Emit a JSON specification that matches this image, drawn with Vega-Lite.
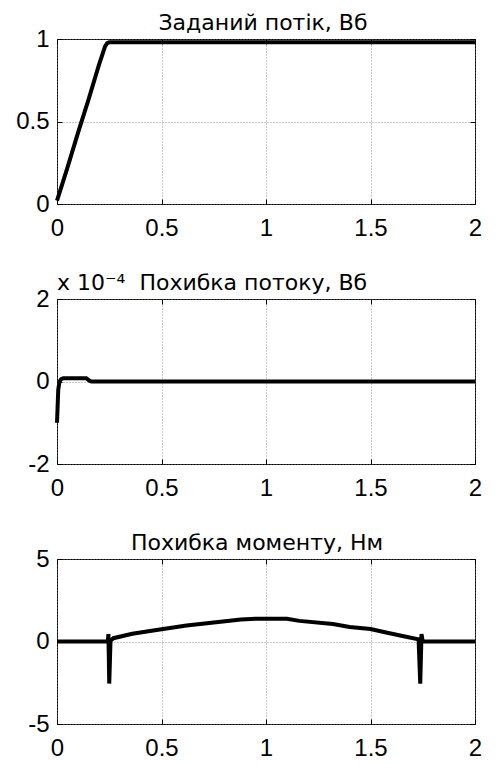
{
  "$schema": "https://vega.github.io/schema/vega-lite/v6.json",
  "autosize": {"type": "pad"},
  "padding": {"left": 15, "top": 11, "right": 5, "bottom": 5},
  "background": "white",
  "datasets": {
    "flux": [
      {"t": 0, "v": 0.02}, {"t": 0.05, "v": 0.22}, {"t": 0.1, "v": 0.43},
      {"t": 0.15, "v": 0.63}, {"t": 0.2, "v": 0.84}, {"t": 0.23, "v": 0.955},
      {"t": 0.24, "v": 0.975}, {"t": 0.25, "v": 0.98}, {"t": 2, "v": 0.98}
    ],
    "fluxErr": [
      {"t": 0, "v": -1.0}, {"t": 0.003, "v": -0.6}, {"t": 0.006, "v": -0.2},
      {"t": 0.012, "v": 0.0}, {"t": 0.02, "v": 0.06}, {"t": 0.03, "v": 0.08},
      {"t": 0.14, "v": 0.08}, {"t": 0.155, "v": 0.02}, {"t": 0.165, "v": 0.0},
      {"t": 2, "v": 0.0}
    ],
    "torqueErr": [
      {"t": 0, "v": 0}, {"t": 0.243, "v": 0}, {"t": 0.246, "v": 0.45},
      {"t": 0.25, "v": -2.55}, {"t": 0.256, "v": 0.05}, {"t": 0.27, "v": 0.2},
      {"t": 0.36, "v": 0.47}, {"t": 0.5, "v": 0.74}, {"t": 0.62, "v": 0.97},
      {"t": 0.75, "v": 1.15}, {"t": 0.88, "v": 1.33}, {"t": 0.95, "v": 1.38},
      {"t": 1.1, "v": 1.38}, {"t": 1.16, "v": 1.25}, {"t": 1.32, "v": 1.06},
      {"t": 1.4, "v": 0.88}, {"t": 1.5, "v": 0.76}, {"t": 1.58, "v": 0.53},
      {"t": 1.67, "v": 0.29}, {"t": 1.73, "v": 0.13}, {"t": 1.738, "v": -2.55},
      {"t": 1.744, "v": 0.45}, {"t": 1.75, "v": 0.0}, {"t": 2, "v": 0.0}
    ]
  },
  "vconcat": [
    {
      "width": 418,
      "height": 165,
      "title": {"text": "Заданий потік, Вб", "dx": -3},
      "data": {"name": "flux"},
      "layer": [
        {
          "mark": {"type": "line", "color": "black", "strokeWidth": 4},
          "encoding": {
            "x": {"field": "t", "type": "quantitative", "title": null,
                  "scale": {"domain": [0, 2], "nice": false},
                  "axis": {"orient": "bottom", "values": [0, 0.5, 1, 1.5, 2], "format": "~g"}},
            "y": {"field": "v", "type": "quantitative", "title": null,
                  "scale": {"domain": [0, 1], "nice": false, "zero": false},
                  "axis": {"orient": "left", "values": [0, 0.5, 1], "format": "~g"}}
          }
        },
        {
          "mark": {"type": "line", "opacity": 0},
          "encoding": {
            "x": {"field": "t", "type": "quantitative", "title": null,
                  "axis": {"orient": "top", "values": [0, 0.5, 1, 1.5, 2], "labels": false, "grid": false}},
            "y": {"field": "v", "type": "quantitative", "title": null,
                  "axis": {"orient": "right", "values": [0, 0.5, 1], "labels": false, "grid": false}}
          }
        }
      ],
      "resolve": {"axis": {"x": "independent", "y": "independent"}}
    },
    {
      "width": 418,
      "height": 165,
      "title": {"text": "x 10⁻⁴\u00a0\u00a0Похибка потоку, Вб", "anchor": "start", "frame": "group"},
      "data": {"name": "fluxErr"},
      "layer": [
        {
          "mark": {"type": "line", "color": "black", "strokeWidth": 4},
          "encoding": {
            "x": {"field": "t", "type": "quantitative", "title": null,
                  "scale": {"domain": [0, 2], "nice": false},
                  "axis": {"orient": "bottom", "values": [0, 0.5, 1, 1.5, 2], "format": "~g"}},
            "y": {"field": "v", "type": "quantitative", "title": null,
                  "scale": {"domain": [-2, 2], "nice": false},
                  "axis": {"orient": "left", "values": [-2, 0, 2], "format": "~g",
                           "labelExpr": "replace(datum.label, '\u2212', '-')"}}
          }
        },
        {
          "mark": {"type": "line", "opacity": 0},
          "encoding": {
            "x": {"field": "t", "type": "quantitative", "title": null,
                  "axis": {"orient": "top", "values": [0, 0.5, 1, 1.5, 2], "labels": false, "grid": false}},
            "y": {"field": "v", "type": "quantitative", "title": null,
                  "axis": {"orient": "right", "values": [-2, 0, 2], "labels": false, "grid": false}}
          }
        }
      ],
      "resolve": {"axis": {"x": "independent", "y": "independent"}}
    },
    {
      "width": 418,
      "height": 165,
      "title": {"text": "Похибка моменту, Нм", "dx": -9},
      "data": {"name": "torqueErr"},
      "layer": [
        {
          "mark": {"type": "line", "color": "black", "strokeWidth": 4},
          "encoding": {
            "x": {"field": "t", "type": "quantitative", "title": null,
                  "scale": {"domain": [0, 2], "nice": false},
                  "axis": {"orient": "bottom", "values": [0, 0.5, 1, 1.5, 2], "format": "~g"}},
            "y": {"field": "v", "type": "quantitative", "title": null,
                  "scale": {"domain": [-5, 5], "nice": false},
                  "axis": {"orient": "left", "values": [-5, 0, 5], "format": "~g",
                           "labelExpr": "replace(datum.label, '\u2212', '-')"}}
          }
        },
        {
          "mark": {"type": "line", "opacity": 0},
          "encoding": {
            "x": {"field": "t", "type": "quantitative", "title": null,
                  "axis": {"orient": "top", "values": [0, 0.5, 1, 1.5, 2], "labels": false, "grid": false}},
            "y": {"field": "v", "type": "quantitative", "title": null,
                  "axis": {"orient": "right", "values": [-5, 0, 5], "labels": false, "grid": false}}
          }
        }
      ],
      "resolve": {"axis": {"x": "independent", "y": "independent"}}
    }
  ],
  "spacing": 95,
  "bounds": "flush",
  "config": {
    "font": "Liberation Sans",
    "view": {"stroke": "black", "strokeWidth": 1},
    "axis": {
      "domain": false,
      "grid": true,
      "gridColor": "#7a7a7a",
      "gridDash": [1, 2],
      "gridWidth": 0.8,
      "ticks": true,
      "tickColor": "black",
      "tickSize": -5,
      "labelFont": "Liberation Sans",
      "labelFontSize": 24,
      "labelColor": "black",
      "labelFlush": false,
      "labelOverlap": false
    },
    "axisX": {"labelPadding": 17},
    "axisY": {"labelPadding": 13},
    "title": {"font": "DejaVu Sans", "fontSize": 22, "fontWeight": "normal", "color": "black", "offset": -8}
  }
}
